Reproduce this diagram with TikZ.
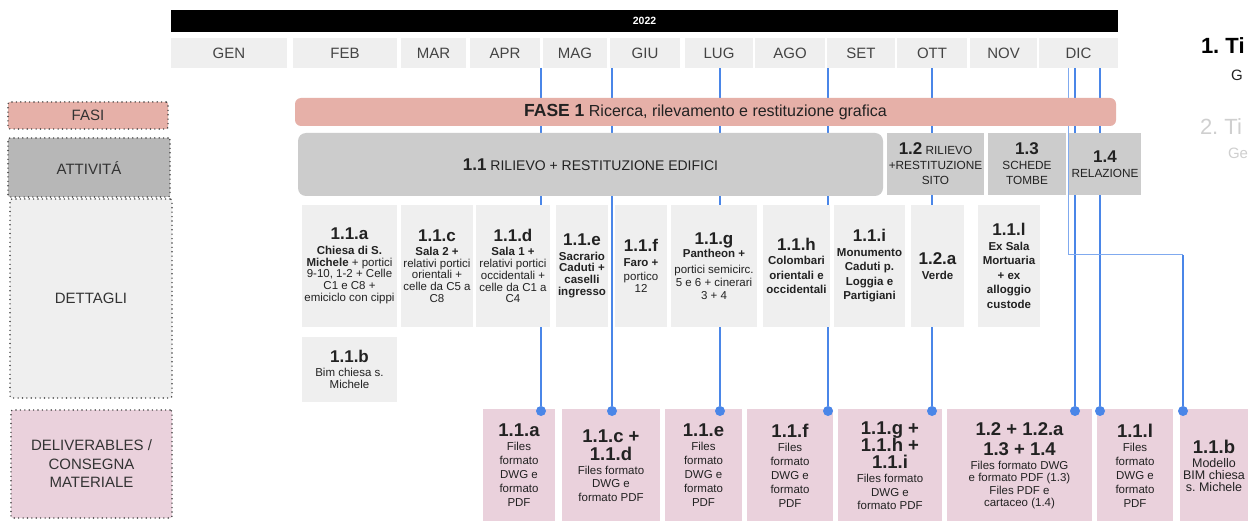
\documentclass[tikz,border=0pt]{standalone}
\usepackage{fontspec}
\setmainfont{Liberation Sans}
\usepackage{tikz}
\usetikzlibrary{backgrounds}
\frenchspacing

\definecolor{cell}{HTML}{EFEFEF}
\definecolor{fase}{HTML}{E6B0A8}
\definecolor{attgray}{HTML}{B7B7B7}
\definecolor{actgray}{HTML}{CCCCCC}
\definecolor{deliv}{HTML}{EAD1DC}
\definecolor{lineblue}{HTML}{4A86E8}
\definecolor{txt}{HTML}{222222}
\definecolor{monthtxt}{HTML}{444444}
\definecolor{labtxt}{HTML}{333333}
\definecolor{dotc}{HTML}{444444}
\definecolor{ghost}{HTML}{CFCFCF}

\newcommand{\boxtitle}[1]{{\fontsize{17}{19}\selectfont\bfseries #1}}
\newcommand{\delivtitle}[1]{{\fontsize{18.5}{19}\selectfont\bfseries #1}}

\begin{document}
\begin{tikzpicture}[
		x=1pt, y=-1pt,
		every node/.style={inner sep=0pt, outer sep=0pt, align=center, text=txt},
		month/.style={fill=cell, minimum height=30, text=monthtxt, font=\fontsize{15}{17}\selectfont},
		rowlabel/.style={draw=dotc, line width=1.6pt, dash pattern=on 0pt off 4.4pt, line cap=round, rounded corners=2pt, text=labtxt, font=\fontsize{15}{18.5}\selectfont},
		actbox/.style={fill=actgray, minimum height=62, font=\fontsize{11.8}{15}\selectfont},
		detail/.style={fill=cell, minimum height=122, font=\fontsize{11.5}{11.8}\selectfont\lineskiplimit-20pt},
		loose/.style={font=\fontsize{11.5}{14.5}\selectfont\lineskiplimit-20pt},
		delivbox/.style={fill=deliv, minimum height=113, font=\fontsize{11.5}{14}\selectfont\lineskiplimit-20pt},
		link/.style={draw=lineblue, line width=1.8pt},
		thinlink/.style={draw=lineblue!70, line width=1pt},
		enddot/.style={circle, fill=lineblue, minimum size=10}
		]
		\useasboundingbox (0,0) rectangle (1248,521);
		
		\node[fill=black, minimum width=947, minimum height=22, text=white, font=\fontsize{10.5}{12}\selectfont\bfseries] (year) at (644.5,21) {2022};
		\node[month, minimum width=116] (gen) at (229,53) {GEN};
		\node[month, minimum width=104] (feb) at (345,53) {FEB};
		\node[month, minimum width=65] (mar) at (433.5,53) {MAR};
		\node[month, minimum width=70] (apr) at (505,53) {APR};
		\node[month, minimum width=64] (mag) at (575,53) {MAG};
		\node[month, minimum width=70] (giu) at (645,53) {GIU};
		\node[month, minimum width=68] (lug) at (719,53) {LUG};
		\node[month, minimum width=70] (ago) at (790,53) {AGO};
		\node[month, minimum width=68] (set) at (861,53) {SET};
		\node[month, minimum width=70] (ott) at (932,53) {OTT};
		\node[month, minimum width=67] (nov) at (1003.5,53) {NOV};
		\node[month, minimum width=79] (dic) at (1078.5,53) {DIC};
		
		\node[rowlabel, fill=fase, minimum width=160, minimum height=27] (fasi) at (88,115.5) {FASI};
		\node[rowlabel, fill=attgray, minimum width=162, minimum height=59] (attivita) at (89,167.5) {ATTIVITÁ};
		\node[rowlabel, fill=cell, minimum width=162, minimum height=199] (dettagli) at (91,298.5) {DETTAGLI};
		\node[rowlabel, fill=deliv, minimum width=161, minimum height=108] (consegna) at (91.5,464) {DELIVERABLES /\\ CONSEGNA\\ MATERIALE};
		
		\node[fill=fase, rounded corners=6pt, minimum width=821, minimum height=28, font=\fontsize{16}{18}\selectfont] (fase1) at (705.5,112) {{\fontsize{17.5}{20}\selectfont\bfseries FASE 1} Ricerca, rilevamento e restituzione grafica};
		\node[fill=actgray, rounded corners=8pt, minimum width=585, minimum height=63, font=\fontsize{14}{16}\selectfont] (a11) at (590.5,164.5) {\boxtitle{1.1} RILIEVO + RESTITUZIONE EDIFICI};
		\node[actbox, minimum width=97] (a12) at (935.5,164) {\boxtitle{1.2} RILIEVO\\ +RESTITUZIONE\\ SITO};
		\node[actbox, minimum width=78] (a13) at (1027,164) {\boxtitle{1.3}\\ SCHEDE\\ TOMBE};
		\node[actbox, minimum width=72] (a14) at (1105,164) {\boxtitle{1.4}\\ RELAZIONE};
		
		\node[detail, minimum width=95] (d11a) at (349.5,266) {\boxtitle{1.1.a}\\[2.5pt] \textbf{Chiesa di S.}\\ \textbf{Michele} + portici\\ 9-10, 1-2 + Celle\\ C1 e C8 +\\ emiciclo con cippi};
		\node[detail, minimum width=72] (d11c) at (437,266) {\boxtitle{1.1.c}\\[2.5pt] \textbf{Sala 2 +}\\ relativi portici\\ orientali +\\ celle da C5 a\\ C8};
		\node[detail, minimum width=74] (d11d) at (513,266) {\boxtitle{1.1.d}\\[2.5pt] \textbf{Sala 1 +}\\ relativi portici\\ occidentali +\\ celle da C1 a\\ C4};
		\node[detail, minimum width=52] (d11e) at (582,266) {\boxtitle{1.1.e}\\[2.5pt] \textbf{Sacrario}\\ \textbf{Caduti +}\\ \textbf{caselli}\\ \textbf{ingresso}};
		\node[detail, minimum width=52] (d11f) at (641,266) {\boxtitle{1.1.f}\\[3pt] \textbf{Faro +}\\[2pt] portico\\ 12};
		\node[detail, minimum width=86, font=\fontsize{11.5}{13}\selectfont\lineskiplimit-20pt] (d11g) at (714,266) {\boxtitle{1.1.g}\\ \textbf{Pantheon +}\\[3pt] portici semicirc.\\ 5 e 6 + cinerari\\ 3 + 4};
		\node[detail, loose, minimum width=67] (d11h) at (796.5,266) {\boxtitle{1.1.h}\\ \textbf{Colombari}\\ \textbf{orientali e}\\ \textbf{occidentali}};
		\node[detail, loose, minimum width=71] (d11i) at (869.5,266) {\boxtitle{1.1.i}\\ \textbf{Monumento}\\ \textbf{Caduti p.}\\ \textbf{Loggia e}\\ \textbf{Partigiani}};
		\node[detail, minimum width=53] (d12a) at (937.5,266) {\boxtitle{1.2.a}\\[3pt] \textbf{Verde}};
		\node[detail, loose, minimum width=62] (d11l) at (1009,266) {\boxtitle{1.1.l}\\ \textbf{Ex Sala}\\ \textbf{Mortuaria}\\ \textbf{+ ex}\\ \textbf{alloggio}\\ \textbf{custode}};
		\node[detail, minimum width=95, minimum height=65] (d11b) at (349.5,369.5) {\boxtitle{1.1.b}\\[2pt] Bim chiesa s.\\ Michele};
		
		\node[delivbox, minimum width=72] (c11a) at (519,465.5) {\delivtitle{1.1.a}\\ Files\\ formato\\ DWG e\\ formato\\ PDF};
		\node[delivbox, minimum width=98, font=\fontsize{11.5}{13.5}\selectfont\lineskiplimit-20pt] (c11cd) at (611,465.5) {\delivtitle{1.1.c +}\\[4.5pt] \delivtitle{1.1.d}\\ Files formato\\ DWG e\\ formato PDF};
		\node[delivbox, minimum width=77] (c11e) at (703.5,465.5) {\delivtitle{1.1.e}\\ Files\\ formato\\ DWG e\\ formato\\ PDF};
		\node[delivbox, minimum width=86] (c11f) at (790,465.5) {\delivtitle{1.1.f}\\ Files\\ formato\\ DWG e\\ formato\\ PDF};
		\node[delivbox, minimum width=104, font=\fontsize{11.5}{13.5}\selectfont\lineskiplimit-20pt] (c11ghi) at (890,465.5) {\delivtitle{1.1.g +}\\[3.5pt] \delivtitle{1.1.h +}\\[3.5pt] \delivtitle{1.1.i}\\[1pt] Files formato\\ DWG e\\ formato PDF};
		\node[delivbox, minimum width=145, font=\fontsize{11.5}{12}\selectfont\lineskiplimit-20pt] (c12) at (1019.5,465.5) {\delivtitle{1.2 + 1.2.a}\\[8pt] \delivtitle{1.3 + 1.4}\\[2pt] Files formato DWG\\ e formato PDF (1.3)\\[1.5pt] Files PDF e\\ cartaceo (1.4)};
		\node[delivbox, minimum width=76] (c11l) at (1135,465.5) {\delivtitle{1.1.l}\\ Files\\ formato\\ DWG e\\ formato\\ PDF};
		\node[delivbox, minimum width=68, font=\fontsize{12.5}{12}\selectfont\lineskiplimit-20pt] (c11b) at (1214,465.5) {\delivtitle{1.1.b}\\[2pt] Modello\\ BIM chiesa\\ s. Michele};
		
		\node[enddot] (e1) at (541,411) {};
		\node[enddot] (e2) at (612,411) {};
		\node[enddot] (e3) at (720,411) {};
		\node[enddot] (e4) at (828,411) {};
		\node[enddot] (e5) at (932,411) {};
		\node[enddot] (e6) at (1075,411) {};
		\node[enddot] (e7) at (1100,411) {};
		\node[enddot] (e8) at (1183,411) {};
		\coordinate (k8) at (1068,255);
		
		\begin{scope}[on background layer]
			\fill[white] (0,0) rectangle (1248,521);
			\draw[link] (e1 |- mag.south) -- (e1);
			\draw[link] (e2 |- mag.south) -- (e2);
			\draw[link] (e3 |- lug.south) -- (e3);
			\draw[link] (e4 |- ago.south) -- (e4);
			\draw[link] (e5 |- ott.south) -- (e5);
			\draw[link] (e6 |- dic.south) -- (e6);
			\draw[link] (e7 |- dic.south) -- (e7);
			\draw[thinlink] (k8 |- dic.south) -- (k8) -- (e8 |- k8);
			\draw[link] (e8 |- k8) -- (e8);
		\end{scope}
		
		\node[anchor=west, text=black, font=\fontsize{22}{24}\selectfont\bfseries] (tab1) at (1201,46) {1. Ti};
		\node[anchor=west, font=\fontsize{15}{17}\selectfont] (sub1) at (1231,75) {G};
		\node[anchor=west, text=ghost, font=\fontsize{22}{24}\selectfont] (tab2) at (1200,127) {2. Ti};
		\node[anchor=west, text=ghost, font=\fontsize{15}{17}\selectfont] (sub2) at (1228,153) {Ge};
\end{tikzpicture}
\end{document}
